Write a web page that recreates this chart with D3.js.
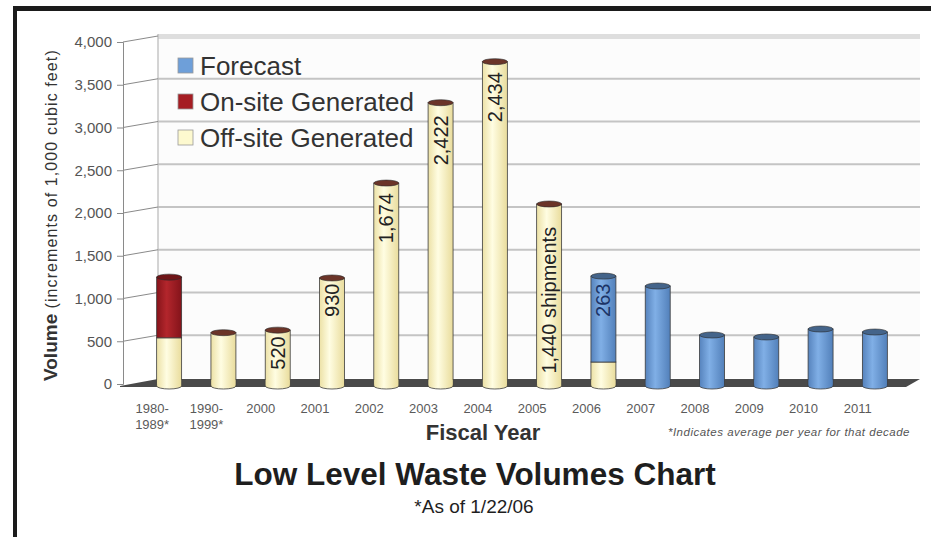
<!DOCTYPE html>
<html>
<head>
<meta charset="utf-8">
<script src="https://cdn.jsdelivr.net/npm/d3@7"></script>
<style>
body { margin: 0; background: #fff; }
svg { display: block; font-family: "Liberation Sans", Arial, sans-serif; }
</style>
</head>
<body>
<svg id="chart" width="931" height="537"></svg>
<script>
// data (1,000 cubic feet)
var categories = ["1980-\n1989*", "1990-\n1999*", "2000", "2001", "2002", "2003", "2004",
                  "2005", "2006", "2007", "2008", "2009", "2010", "2011"];
var offsiteValues  = [540, 600, 630, 1240, 2350, 3290, 3770, 2105, 257, 0, 0, 0, 0, 0];
var onsiteValues   = [710, 0, 0, 0, 0, 0, 0, 0, 0, 0, 0, 0, 0, 0];
var forecastValues = [0, 0, 0, 0, 0, 0, 0, 0, 1005, 1146, 573, 550, 643, 608];
var yTicks = [0, 500, 1000, 1500, 2000, 2500, 3000, 3500, 4000];
// shipment counts written on the bars, "at" = where the text is centred (data units)
var noteCats  = ["2000", "2001", "2002", "2003", "2004", "2005", "2006"];
var noteTexts = ["520", "930", "1,674", "2,422", "2,434", "1,440 shipments", "263"];
var noteAt    = [363, 980, 1940, 2850, 3355, 980, 980];

var keys = ["offsite", "onsite", "forecast"];
var names = {forecast: "Forecast", onsite: "On-site Generated", offsite: "Off-site Generated"};
var colors = {offsite: "#fdf9cf", onsite: "#a51d23", forecast: "#6e9fd9"};
var capColors = {offsite: "#6b3428", onsite: "#6e1417", forecast: "#44648a"};

var rows = categories.map(function (c, i) {
    return {cat: c, offsite: offsiteValues[i], onsite: onsiteValues[i], forecast: forecastValues[i]};
});

var svg = d3.select("#chart");

var x = d3.scaleBand()
    .domain(categories)
    .range([142, 902])
    .paddingInner(0.54)
    .paddingOuter(0.27);
var y = d3.scaleLinear()
    .domain([0, 4000])
    .range([384, 42]);

var wallLeft = 158, wallRight = 920, lift = 6;

// frame
svg.append("rect").attr("x", 13).attr("y", 6).attr("width", 918).attr("height", 5).attr("fill", "#1b1b1b");
svg.append("rect").attr("x", 13).attr("y", 6).attr("width", 4).attr("height", 531).attr("fill", "#1b1b1b");

// gradients for the cylinders
var defs = svg.append("defs");
var shades = {
    offsite: ["#ece1a6", "#fffde2", "#e9dc9c"],
    onsite: ["#86141a", "#b3262c", "#83131a"],
    forecast: ["#5683bd", "#80afe6", "#5280ba"]
};
keys.forEach(function (k) {
    var g = defs.append("linearGradient").attr("id", "g-" + k);
    g.append("stop").attr("offset", "0%").attr("stop-color", shades[k][0]);
    g.append("stop").attr("offset", "40%").attr("stop-color", shades[k][1]);
    g.append("stop").attr("offset", "100%").attr("stop-color", shades[k][2]);
});

// back wall
svg.append("rect")
    .attr("x", wallLeft).attr("y", y(4000) - lift - 2)
    .attr("width", wallRight - wallLeft).attr("height", y(0) - y(4000) + 2)
    .attr("fill", "#fcfcfc");
svg.append("rect")
    .attr("x", wallLeft).attr("y", y(4000) - lift - 2)
    .attr("width", wallRight - wallLeft).attr("height", 5)
    .attr("fill", "#dedede");
svg.selectAll(".grid")
    .data(yTicks.filter(function (d) { return d > 0 && d < 4000; }))
  .enter().append("line")
    .attr("class", "grid")
    .attr("x1", wallLeft).attr("x2", wallRight)
    .attr("y1", function (d) { return y(d) - lift; })
    .attr("y2", function (d) { return y(d) - lift; })
    .attr("stroke", "#c4c4c4").attr("stroke-width", 2);
svg.append("line")
    .attr("x1", wallLeft).attr("x2", wallLeft)
    .attr("y1", y(4000) - lift - 2).attr("y2", y(0) - 4)
    .attr("stroke", "#b8b8b8").attr("stroke-width", 1.2);

// connectors from ticks back to the wall
svg.selectAll(".conn")
    .data(yTicks.filter(function (d) { return d > 0; }))
  .enter().append("line")
    .attr("class", "conn")
    .attr("x1", 123).attr("x2", wallLeft)
    .attr("y1", function (d) { return y(d); })
    .attr("y2", function (d) { return y(d) - lift; })
    .attr("stroke", "#8a8a8a").attr("stroke-width", 1);

// y axis
var yAxis = svg.append("g")
    .attr("transform", "translate(123,0)")
    .call(d3.axisLeft(y).tickValues(yTicks).tickSize(6).tickPadding(5).tickFormat(d3.format(",")));
yAxis.select(".domain").attr("stroke", "#8a8a8a");
yAxis.selectAll(".tick line").attr("stroke", "#8a8a8a");
yAxis.selectAll("text")
    .attr("fill", "#555")
    .style("font-size", "15px");

// floor
var f0 = y(0);
svg.append("path")
    .attr("d", "M120," + (f0 + 2) + "L" + wallLeft + "," + (f0 - 5) + "L" + wallRight + "," + (f0 - 5) +
               "L" + (wallRight - 14) + "," + (f0 + 3) + "L120," + (f0 + 3) + "Z")
    .attr("fill", "#4a4a4a");

// bars
var series = d3.stack().keys(keys)(rows);
var bw = x.bandwidth();
var ry = 3;

series.forEach(function (s) {
    var k = s.key;
    var g = svg.append("g").attr("class", "bars-" + k);
    var segs = s.filter(function (d) { return d[1] > d[0]; });
    g.selectAll("rect")
        .data(segs)
      .enter().append("rect")
        .attr("x", function (d) { return x(d.data.cat); })
        .attr("width", bw)
        .attr("y", function (d) { return y(d[1]); })
        .attr("height", function (d) { return y(d[0]) - y(d[1]) + (d[0] === 0 ? 2 : 0); })
        .attr("fill", "url(#g-" + k + ")")
        .attr("stroke", "#3c3c3c")
        .attr("stroke-width", 0.8);
    // rounded bottoms
    g.selectAll("ellipse.base")
        .data(segs.filter(function (d) { return d[0] === 0; }))
      .enter().append("ellipse")
        .attr("class", "base")
        .attr("cx", function (d) { return x(d.data.cat) + bw / 2; })
        .attr("cy", y(0) + 2)
        .attr("rx", bw / 2).attr("ry", ry)
        .attr("fill", "url(#g-" + k + ")")
        .attr("stroke", "#3c3c3c").attr("stroke-width", 0.8);
    g.selectAll("path.base-cover")
        .data(segs.filter(function (d) { return d[0] === 0; }))
      .enter().append("rect")
        .attr("x", function (d) { return x(d.data.cat) + 0.5; })
        .attr("width", bw - 1)
        .attr("y", y(0) - 4).attr("height", 6)
        .attr("fill", "url(#g-" + k + ")");
});

// caps on the tallest segment of every bar
series.forEach(function (s, si) {
    var k = s.key;
    var tops = s.filter(function (d) {
        if (d[1] <= d[0]) return false;
        for (var j = si + 1; j < series.length; j++) {
            var o = series[j][s.indexOf(d)];
            if (o[1] > o[0]) return false;
        }
        return true;
    });
    svg.append("g").selectAll("ellipse")
        .data(tops)
      .enter().append("ellipse")
        .attr("cx", function (d) { return x(d.data.cat) + bw / 2; })
        .attr("cy", function (d) { return y(d[1]); })
        .attr("rx", bw / 2).attr("ry", ry)
        .attr("fill", capColors[k])
        .attr("stroke", "#2c2c2c").attr("stroke-width", 0.6);
});

// shipment notes
svg.append("g").selectAll("text")
    .data(noteTexts)
  .enter().append("text")
    .attr("transform", function (d, i) {
        return "translate(" + (x(noteCats[i]) + bw / 2 + 7) + "," + y(noteAt[i]) + ") rotate(-90)";
    })
    .attr("text-anchor", "middle")
    .attr("fill", function (d, i) { return noteCats[i] === "2006" ? "#1c3466" : "#222"; })
    .style("font-size", "20px")
    .text(function (d) { return d; });

// x tick labels (drawn in front of the floor, hence shifted left)
var xl = svg.append("g").selectAll("text")
    .data(categories)
  .enter().append("text")
    .attr("x", function (d) { return x(d) + bw / 2 - 17; })
    .attr("y", 413)
    .attr("text-anchor", "middle")
    .attr("fill", "#5a5a5a")
    .style("font-size", "13px");
xl.each(function (d) {
    var parts = d.split("\n");
    var t = d3.select(this);
    parts.forEach(function (p, i) {
        t.append("tspan").attr("x", t.attr("x")).attr("dy", i === 0 ? 0 : 16).text(p);
    });
});

svg.append("text")
    .attr("x", 483).attr("y", 440)
    .attr("text-anchor", "middle")
    .attr("fill", "#333")
    .style("font-size", "22px").style("font-weight", "bold")
    .text("Fiscal Year");
svg.append("text")
    .attr("x", 910).attr("y", 436)
    .attr("text-anchor", "end")
    .attr("fill", "#555")
    .style("font-size", "11.5px").style("font-style", "italic")
    .style("letter-spacing", "0.5px")
    .text("*Indicates average per year for that decade");

// y axis title
var yt = svg.append("text")
    .attr("transform", "translate(57,381) rotate(-90)")
    .attr("fill", "#333");
yt.append("tspan").style("font-size", "19px").style("font-weight", "bold").text("Volume ");
yt.append("tspan").style("font-size", "16px").style("letter-spacing", "1.1px")
    .text("(increments of 1,000 cubic feet)");

// legend
var legendKeys = ["forecast", "onsite", "offsite"];
var lg = svg.append("g").selectAll("g")
    .data(legendKeys)
  .enter().append("g")
    .attr("transform", function (d, i) { return "translate(178," + (66 + i * 36) + ")"; });
lg.append("rect")
    .attr("x", 0).attr("y", -8).attr("width", 15).attr("height", 15)
    .attr("fill", function (d) { return colors[d]; })
    .attr("stroke", "#9a9a9a").attr("stroke-width", 0.8);
lg.append("text")
    .attr("x", 22).attr("y", 0).attr("dy", "0.35em")
    .attr("fill", "#333")
    .style("font-size", "26px")
    .text(function (d) { return names[d]; });

// titles
svg.append("text")
    .attr("x", 475).attr("y", 485)
    .attr("text-anchor", "middle")
    .attr("fill", "#1e1e1e")
    .style("font-size", "31.5px").style("font-weight", "bold")
    .text("Low Level Waste Volumes Chart");
svg.append("text")
    .attr("x", 474).attr("y", 513)
    .attr("text-anchor", "middle")
    .attr("fill", "#1e1e1e")
    .style("font-size", "19px")
    .text("*As of 1/22/06");
</script>
</body>
</html>
